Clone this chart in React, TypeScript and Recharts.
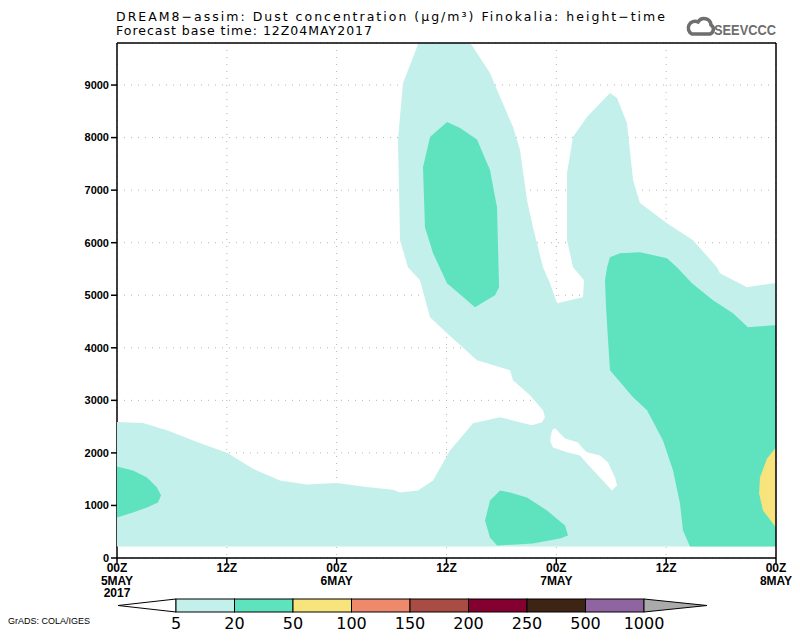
import React from 'react';
import { ComposedChart, Scatter, XAxis, YAxis, CartesianGrid } from 'recharts';

// axes
const hourTicks = [0, 12, 24, 36, 48, 60, 72];
const hourTickLabels = [['00Z', '5MAY', '2017'], ['12Z'], ['00Z', '6MAY'], ['12Z'], ['00Z', '7MAY'], ['12Z'], ['00Z', '8MAY']];
const heightTicks = [0, 1000, 2000, 3000, 4000, 5000, 6000, 7000, 8000, 9000];
const hourMax = 72;
const heightMax = 9800;

// contour polygons, [hours since 00Z05MAY, height m]
const band5to20: [number, number][] = [
  [0, 220], [72, 220], [72, 5229], [71.67, 5229], [68.83, 5152], [65.88, 5419], [65.55, 5534], [62.93, 6048],
  [60.09, 6372], [57.14, 6753], [56.38, 7191], [55.72, 8276], [54.63, 8752], [53.86, 8848], [51.35, 8390],
  [49.82, 8010], [49.17, 7324], [49.17, 6048], [49.82, 5534], [51.02, 5286], [50.91, 4962], [48.07, 4848],
  [47.31, 5229], [46.54, 5534], [45.45, 6295], [44.8, 6810], [44.03, 7762], [43.27, 8200], [41.85, 8771],
  [40.75, 9229], [38.9, 9724], [38.57, 9800], [32.88, 9800], [32.78, 9724], [31.25, 9038], [30.7, 7962],
  [30.92, 6048], [31.79, 5534], [33.1, 5286], [34.2, 4581], [36.06, 4276], [39.33, 3762], [42.94, 3571],
  [43.27, 3381], [45.12, 3095], [46.54, 2810], [46.76, 2676], [46.43, 2581], [45.34, 2524], [44.03, 2581],
  [41.85, 2676], [38.9, 2562], [36.38, 2048], [34.53, 1476], [32.88, 1286], [30.92, 1248], [30.16, 1299],
  [27.31, 1349], [24.04, 1425], [20.76, 1400], [17.81, 1476], [14.86, 1699], [12.02, 2004], [8.74, 2206],
  [5.46, 2429], [2.84, 2568], [0, 2587],
];
const gapBelow5: [number, number][] = [
  [47.53, 2429], [47.86, 2467], [48.95, 2276], [50.37, 2200], [50.91, 2086], [51.35, 2010], [52.77, 1952],
  [53.65, 1819], [54.41, 1533], [54.63, 1381], [54.08, 1286], [52.77, 1533], [51.35, 1800], [50.59, 1952],
  [49.17, 2010], [47.64, 2105], [47.31, 2238],
];
const band20to50West: [number, number][] = [
  [0, 1743], [1.75, 1667], [3.28, 1533], [4.37, 1343], [4.81, 1191], [4.48, 1057], [3.28, 962], [1.75, 867], [0, 771],
];
const band20to50Upper: [number, number][] = [
  [36.06, 8295], [34.2, 8010], [33.43, 7438], [33.65, 6295], [34.53, 5800], [36.06, 5229], [39.11, 4772],
  [41.3, 5000], [41.74, 5152], [41.52, 6676], [40.75, 7381], [39.33, 7962], [37.48, 8181],
];
const band20to50East: [number, number][] = [
  [53.86, 5724], [54.96, 5800], [57.14, 5819], [60.09, 5705], [61.18, 5534], [62.82, 5229], [65.12, 4905],
  [67.3, 4657], [68.94, 4391], [71.67, 4429], [72, 4429], [72, 220], [62.6, 220], [61.84, 524], [61.51, 1038],
  [60.75, 1667], [59.65, 2238], [57.91, 2810], [56.38, 3057], [53.86, 3571], [53.65, 4143], [53.43, 4772],
  [53.32, 5286], [53.54, 5534],
];
const band20to50Low: [number, number][] = [
  [41.85, 1286], [40.75, 1095], [40.21, 714], [40.75, 391], [41.52, 238], [45.45, 276], [48.4, 371],
  [49.28, 429], [48.95, 619], [46.98, 905], [44.8, 1152], [42.94, 1248],
];
const band50to100: [number, number][] = [
  [72, 2105], [71.02, 1895], [70.25, 1533], [70.15, 1229], [70.58, 905], [72, 581],
];

// colour scale
const levels = ['5', '20', '50', '100', '150', '200', '250', '500', '1000'];
const levelColors = ['#c4f0eb', '#5ee3be', '#f7e47c', '#ee8a6b', '#a94c43', '#830030', '#3d2414', '#8f64a0'];
const overColor = '#aaaaaa';

const layers = [
  { key: 'c5', poly: band5to20, color: levelColors[0] },
  { key: 'gap', poly: gapBelow5, color: '#ffffff' },
  { key: 'g1', poly: band20to50West, color: levelColors[1] },
  { key: 'g2', poly: band20to50Upper, color: levelColors[1] },
  { key: 'g3', poly: band20to50East, color: levelColors[1] },
  { key: 'g4', poly: band20to50Low, color: levelColors[1] },
  { key: 'y1', poly: band50to100, color: levelColors[2] },
];

const toPts = (poly: [number, number][]) => poly.map(([h, m]) => ({ h, m }));
const noDot = () => <g />;
const font = '"Liberation Sans", Arial, sans-serif';

// plot box in the page (chart margin + axis sizes below)
const plot = { left: 117, top: 43, right: 776, bottom: 558 };

const HourTick = (props: any) => {
  const { x, y, payload } = props;
  const lines = hourTickLabels[hourTicks.indexOf(payload.value)] || [];
  return (
    <text x={x} y={y} textAnchor="middle" fontFamily={font} fontSize={12} fontWeight="bold" fill="#000">
      {lines.map((t, i) => (
        <tspan key={i} x={x} y={y + 7 + i * 12.5}>{t}</tspan>
      ))}
    </text>
  );
};

const ColorBar = () => {
  const x0 = 176;
  const w = 58.5;
  const top = 599;
  const h = 13;
  const end = x0 + w * levelColors.length;
  return (
    <g>
      <polygon points={`118,${top + h / 2} ${x0},${top} ${x0},${top + h}`} fill="#fff" stroke="#000" strokeWidth={1} />
      {levelColors.map((c, i) => (
        <rect key={c} x={x0 + i * w} y={top} width={w} height={h} fill={c} stroke="#000" strokeWidth={1} />
      ))}
      <polygon points={`${end},${top} ${end + 63},${top + h / 2} ${end},${top + h}`} fill={overColor} stroke="#000" strokeWidth={1} />
      {levels.map((l, i) => (
        <text key={l} x={x0 + i * w} y={629} textAnchor="middle" fontFamily='"DejaVu Sans", sans-serif' fontSize={16} fill="#000">{l}</text>
      ))}
    </g>
  );
};

export default function App() {
  return (
    <div style={{ position: 'absolute', left: 0, top: 0, width: 800, height: 641, background: '#fff' }}>
      <ComposedChart width={800} height={641} margin={{ top: plot.top, right: 800 - plot.right, bottom: 43, left: 0 }}>
        <XAxis
          type="number"
          dataKey="h"
          domain={[0, hourMax]}
          ticks={hourTicks}
          interval={0}
          allowDataOverflow
          height={40}
          tickSize={5}
          stroke="#000"
          strokeWidth={1.5}
          tick={<HourTick />}
        />
        <YAxis
          type="number"
          dataKey="m"
          domain={[0, heightMax]}
          ticks={heightTicks}
          interval={0}
          allowDataOverflow
          width={plot.left}
          tickSize={6}
          stroke="#000"
          strokeWidth={1.5}
          tick={{ fill: '#000', fontSize: 11, fontWeight: 'bold', fontFamily: font }}
        />
        {layers.map((l) => (
          <Scatter
            key={l.key}
            data={toPts(l.poly)}
            line={{ fill: l.color, stroke: 'none' }}
            shape={noDot}
            legendType="none"
            isAnimationActive={false}
          />
        ))}
        <CartesianGrid stroke="#b5b5b5" strokeDasharray="1 6" />
      </ComposedChart>
      <svg width={800} height={641} style={{ position: 'absolute', left: 0, top: 0, pointerEvents: 'none' }}>
        <line x1={plot.left} y1={plot.top} x2={plot.right} y2={plot.top} stroke="#000" strokeWidth={1.5} />
        <line x1={plot.right} y1={plot.top} x2={plot.right} y2={plot.bottom} stroke="#000" strokeWidth={1.5} />
        <text x={116} y={21} fontFamily='"DejaVu Sans", sans-serif' fontSize={12.5} fill="#000" textLength={549} lengthAdjust="spacing">
          DREAM8−assim: Dust concentration (μg/m³) Finokalia: height−time
        </text>
        <text x={116} y={35} fontFamily='"DejaVu Sans", sans-serif' fontSize={12.5} fill="#000" textLength={256} lengthAdjust="spacing">
          Forecast base time: 12Z04MAY2017
        </text>
        <g fill="none" stroke="#6e6e6e" strokeWidth={3.5}>
          <path d="M692,34 h18 a5,5 0 0 0 1,-9 a7,7 0 0 0 -13,-3 a5,5 0 0 0 -6,12 z" />
        </g>
        <text x={714} y={35} fontFamily={font} fontWeight="bold" fontSize={15} fill="#6e6e6e" textLength={62} lengthAdjust="spacingAndGlyphs">
          SEEVCCC
        </text>
        <ColorBar />
        <text x={8} y={624} fontFamily={font} fontSize={9} fill="#000">GrADS: COLA/IGES</text>
      </svg>
    </div>
  );
}
